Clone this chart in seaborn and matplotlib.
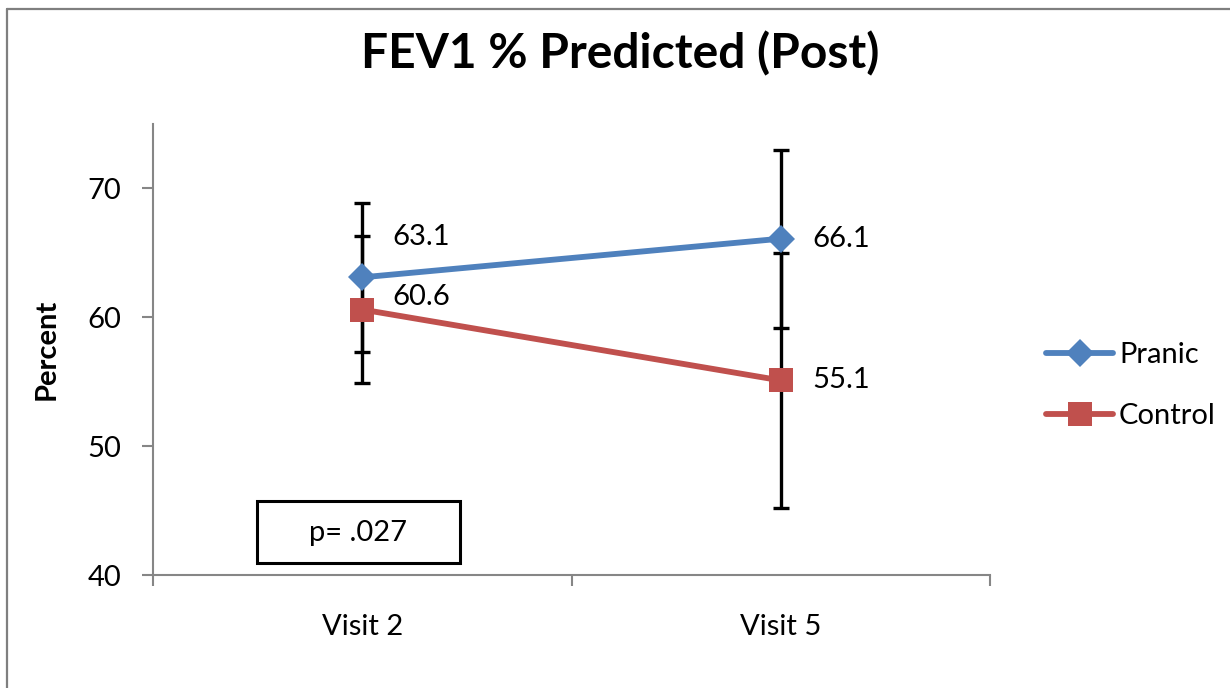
import matplotlib
matplotlib.use("Agg")
import matplotlib.pyplot as plt
from matplotlib.lines import Line2D
from matplotlib.patches import Rectangle
import seaborn as sns
import pandas as pd

visits = ["Visit 2", "Visit 5"]
pranic = [63.1, 66.1]
pranic_sd = [5.8, 6.9]
control = [60.6, 55.1]
control_sd = [5.7, 9.9]
groups = ["Pranic", "Control"]
p_text = "p= .027"

sns.set_theme(style="white")
plt.rcParams["font.family"] = ["Lato", "DejaVu Sans"]
plt.rcParams["text.color"] = "black"
plt.rcParams["axes.labelcolor"] = "black"
plt.rcParams["xtick.color"] = "black"
plt.rcParams["ytick.color"] = "black"

df = pd.DataFrame({
    "Visit": visits * 2,
    "Percent": pranic + control,
    "Group": [groups[0]] * 2 + [groups[1]] * 2,
})

blue = "#4F81BD"
red = "#C0504D"
axis_grey = "#868686"
fs = 21

fig = plt.figure(figsize=(12.3, 6.88), dpi=100)
# chart-area border: only the top and left edges fall inside the canvas
fig.add_artist(Line2D([0.0057, 0.0057], [0.0, 0.987], transform=fig.transFigure,
                      color="#7f7f7f", linewidth=1.6))
fig.add_artist(Line2D([0.0057, 1.0], [0.987, 0.987], transform=fig.transFigure,
                      color="#7f7f7f", linewidth=1.6))

ax = fig.add_axes([0.1244, 0.1642, 0.6805, 0.6556])

xpos = list(range(len(visits)))
for vals, sd in [(pranic, pranic_sd), (control, control_sd)]:
    ax.errorbar(xpos, vals, yerr=sd, fmt="none", ecolor="black",
                elinewidth=2.4, capsize=6, capthick=2.4, zorder=2)

sns.lineplot(data=df, x="Visit", y="Percent", hue="Group", style="Group",
             palette={groups[0]: blue, groups[1]: red},
             markers={groups[0]: "D", groups[1]: "s"}, dashes=False,
             markersize=14, linewidth=4.2, markeredgewidth=0,
             ax=ax, zorder=3, sort=False, legend=False)
for line in ax.get_lines():
    if line.get_marker() == "s":
        line.set_markersize(17)

offsets = {groups[0]: [(22, 29), (23, 0)], groups[1]: [(22, 9), (23, 0)]}
for g, vals in [(groups[0], pranic), (groups[1], control)]:
    for i, v in enumerate(vals):
        ax.annotate(f"{v:.1f}", (i, v), xytext=offsets[g][i], textcoords="offset points",
                    ha="left", va="center", fontsize=fs, color="black")

ax.set_xlim(-0.5, 1.5)
ax.set_ylim(40, 75)
ax.set_yticks([40, 50, 60, 70])
ax.set_xticks([-0.5, 0.5, 1.5], minor=False)
ax.set_xticklabels([])
ax.set_xticks([0, 1], minor=True)
ax.set_xticklabels(visits, minor=True)
ax.tick_params(axis="x", which="major", length=8, width=1.5, color=axis_grey, direction="out", bottom=True)
ax.tick_params(axis="x", which="minor", length=0, labelsize=fs, pad=28)
ax.tick_params(axis="y", length=8, width=1.5, color=axis_grey, direction="out", left=True,
               labelsize=fs, pad=15)
for side in ["top", "right"]:
    ax.spines[side].set_visible(False)
for side in ["left", "bottom"]:
    ax.spines[side].set_color(axis_grey)
    ax.spines[side].set_linewidth(1.5)
ax.set_xlabel("")
ax.set_ylabel("Percent", fontsize=fs, fontweight="bold", labelpad=0)
ax.yaxis.set_label_coords(-0.111, 0.5)

# p-value box
ax.add_patch(Rectangle((-0.2515, 40.93), 0.485, 4.81, facecolor="white",
                       edgecolor="black", linewidth=2.2, zorder=4))
ax.text(-0.009, 43.3, p_text, ha="center", va="center", fontsize=fs, zorder=5)

handles = [
    Line2D([], [], color=blue, linewidth=4.2, marker="D", markersize=14, markeredgewidth=0),
    Line2D([], [], color=red, linewidth=4.2, marker="s", markersize=17, markeredgewidth=0),
]
ax.legend(handles, groups, loc="center left", bbox_to_anchor=(1.053, 0.42), frameon=False,
          fontsize=fs, handlelength=2.3, handletextpad=0.2, labelspacing=1.2,
          borderaxespad=0)

fig.suptitle("FEV1 % Predicted (Post)", fontsize=34.5, fontweight="bold", y=0.955, x=0.504)

fig.savefig("out.png", dpi=100)
